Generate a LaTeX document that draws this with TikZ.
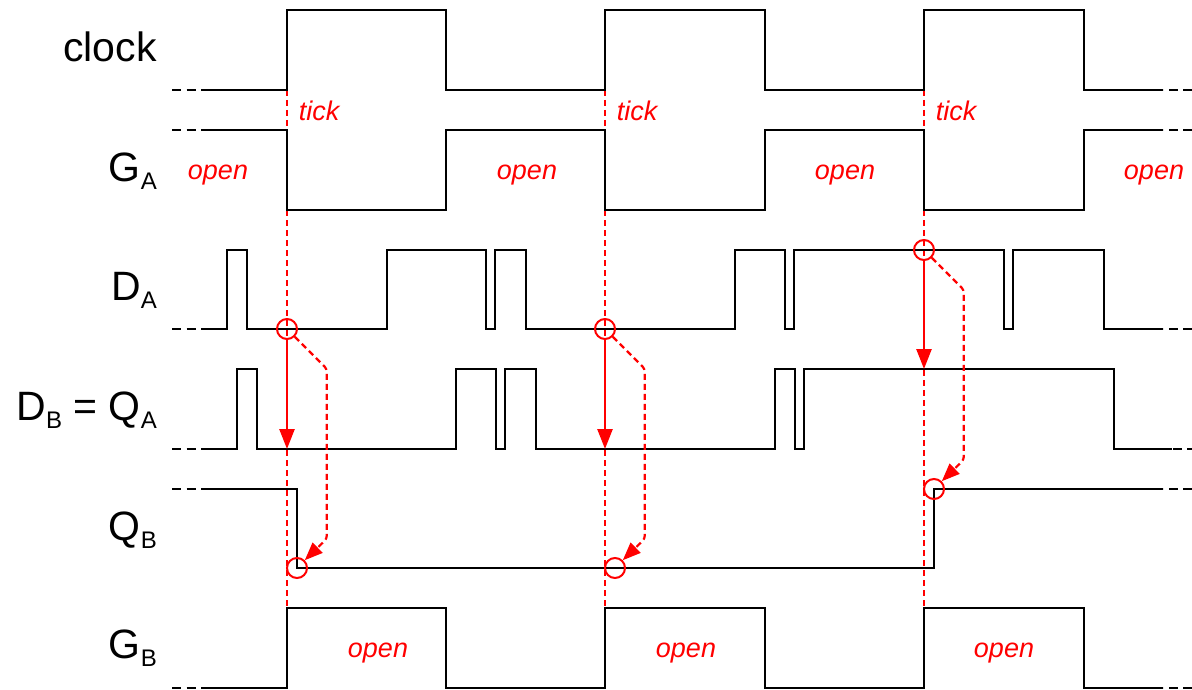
\documentclass[tikz,border=0pt]{standalone}
\usepackage{fontspec}
\setmainfont{Liberation Sans}
\usetikzlibrary{arrows.meta}

\newcommand{\sig}[2]{#1\raisebox{-8pt}{\fontsize{24}{24}\selectfont #2}}

\begin{document}
\begin{tikzpicture}[x=1pt,y=-1pt,
  wave/.style={line width=2.8pt},
  stub/.style={line width=2.8pt,dash pattern=on 9pt off 5.5pt},
  tickline/.style={red,line width=2.2pt,dash pattern=on 6pt off 4pt},
  ring/.style={circle,draw=red,line width=2pt,minimum size=20pt,inner sep=0pt},
  hit/.style={red,line width=2.6pt,-{Triangle[length=20pt,width=15pt]}},
  hold/.style={red,line width=2.2pt,dash pattern=on 6pt off 4pt,rounded corners=3pt,-{Triangle[length=18pt,width=14pt]}},
  lab/.style={anchor=base east,inner sep=0pt,font=\fontsize{41}{49}\selectfont},
  note/.style={red,anchor=base,inner sep=0pt,font=\fontsize{27}{32}\selectfont\itshape}]
  \useasboundingbox (0,0) rectangle (1192,690);
  % flancos de subida del reloj
  \coordinate (t1) at (287,10); \coordinate (b1) at (287,688);
  \coordinate (t2) at (605,10); \coordinate (b2) at (605,688);
  \coordinate (t3) at (924,10); \coordinate (b3) at (924,688);
  \draw[tickline] (t1)--(b1); \draw[tickline] (t2)--(b2); \draw[tickline] (t3)--(b3);
  % senales
  \draw[wave] (202,90)--(287,90)--(287,10)--(446,10)--(446,90)--(605,90)--(605,10)--(765,10)--(765,90)--(924,90)--(924,10)--(1084,10)--(1084,90)--(1163,90);
  \draw[wave] (202,130)--(287,130)--(287,210)--(446,210)--(446,130)--(605,130)--(605,210)--(765,210)--(765,130)--(924,130)--(924,210)--(1084,210)--(1084,130)--(1163,130);
  \draw[wave] (202,329)--(227,329)--(227,250)--(247,250)--(247,329)--(387,329)--(387,250)--(486,250)--(486,329)--(495,329)--(495,250)--(526,250)--(526,329)--(735,329)--(735,250)--(785,250)--(785,329)--(794,329)--(794,250)--(1004,250)--(1004,329)--(1013,329)--(1013,250)--(1104,250)--(1104,329)--(1163,329);
  \draw[wave] (202,449)--(237,449)--(237,369)--(257,369)--(257,449)--(456,449)--(456,369)--(496,369)--(496,449)--(505,449)--(505,369)--(536,369)--(536,449)--(775,449)--(775,369)--(795,369)--(795,449)--(804,449)--(804,369)--(1114,369)--(1114,449)--(1172,449);
  \draw[wave] (202,489)--(297,489)--(297,568)--(934,568)--(934,489)--(1163,489);
  \draw[wave] (202,688)--(287,688)--(287,608)--(446,608)--(446,688)--(605,688)--(605,608)--(765,608)--(765,688)--(924,688)--(924,608)--(1084,608)--(1084,688)--(1163,688);
  % puntas discontinuas
  \draw[stub] (172,90)--(202,90) (1192,90)--(1163,90);
  \draw[stub] (172,130)--(202,130) (1192,130)--(1163,130);
  \draw[stub] (172,329)--(202,329) (1192,329)--(1163,329);
  \draw[stub] (172,449)--(202,449) (1196,449)--(1172,449);
  \draw[stub] (172,489)--(202,489) (1192,489)--(1163,489);
  \draw[stub] (172,688)--(202,688) (1192,688)--(1163,688);
  % muestras
  \node[ring] (da1) at (287,329) {}; \node[ring] (da2) at (605,329) {}; \node[ring] (da3) at (924,250) {};
  \node[ring] (qb1) at (297,568) {}; \node[ring] (qb2) at (615,568) {}; \node[ring] (qb3) at (934,489) {};
  \coordinate (qa1) at (287,449); \coordinate (qa2) at (605,449); \coordinate (qa3) at (924,369);
  \draw[hit] (da1)--(qa1); \draw[hit] (da2)--(qa2); \draw[hit] (da3)--(qa3);
  \draw[hold] (da1.south east)--++(32,32)--++(0,170)--(qb1.north east);
  \draw[hold] (da2.south east)--++(32,32)--++(0,170)--(qb2.north east);
  \draw[hold] (da3.south east)--++(32,32)--++(0,170)--(qb3.north east);
  % nombres
  \node[lab] (lclk) at (157,62) {clock};
  \node[lab] (lga) at (157,182) {\sig{G}{A}};
  \node[lab] (lda) at (157,300) {\sig{D}{A}};
  \node[lab] (lqa) at (157,420) {\sig{D}{B} = \sig{Q}{A}};
  \node[lab] (lqb) at (157,540) {\sig{Q}{B}};
  \node[lab] (lgb) at (157,658) {\sig{G}{B}};
  \node[note] (tk1) at (319,121) {tick}; \node[note] (tk2) at (637,121) {tick}; \node[note] (tk3) at (956,121) {tick};
  \node[note] (oa1) at (218,180) {open}; \node[note] (oa2) at (527,180) {open};
  \node[note] (oa3) at (845,180) {open}; \node[note] (oa4) at (1154,180) {open};
  \node[note] (ob1) at (378,657) {open}; \node[note] (ob2) at (686,657) {open}; \node[note] (ob3) at (1004,657) {open};
\end{tikzpicture}
\end{document}
